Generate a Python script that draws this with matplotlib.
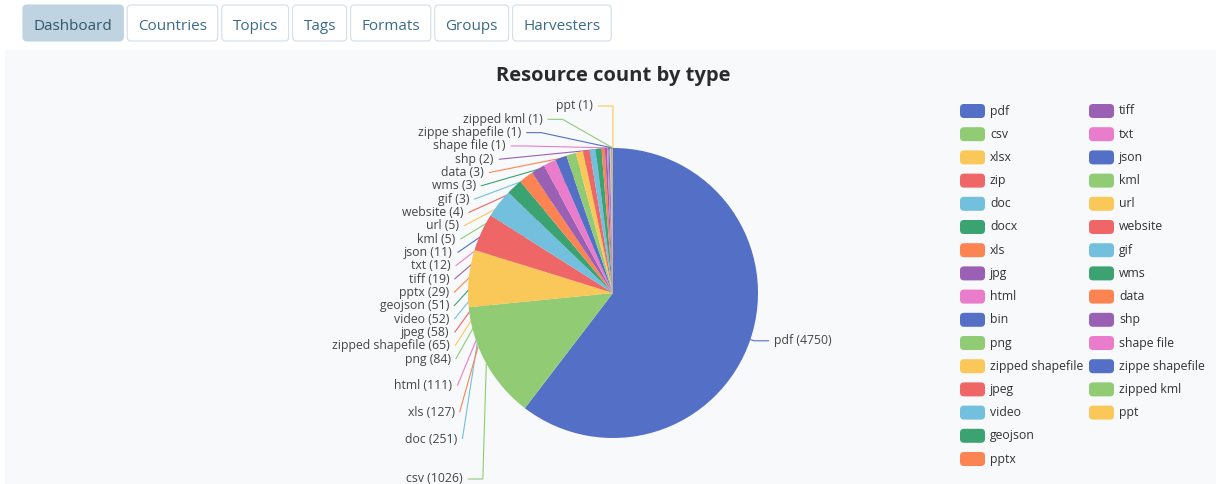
import numpy as np
import matplotlib.pyplot as plt
from matplotlib.patches import FancyBboxPatch, Rectangle

# resource formats, in the order the dashboard lists them
types = ['pdf', 'csv', 'xlsx', 'zip', 'doc', 'docx', 'xls', 'jpg', 'html', 'bin',
         'png', 'zipped shapefile', 'jpeg', 'video', 'geojson', 'pptx', 'tiff', 'txt',
         'json', 'kml', 'url', 'website', 'gif', 'wms', 'data', 'shp', 'shape file',
         'zippe shapefile', 'zipped kml', 'ppt']
counts = [4750, 1026, 500, 330, 251, 140, 127, 120, 111, 100,
          84, 65, 58, 52, 51, 29, 19, 12,
          11, 5, 5, 4, 3, 3, 3, 2, 1,
          1, 1, 1]
# labels the chart hides because they collide
unlabeled = ['xlsx', 'zip', 'docx', 'jpg', 'bin']
tabs = ['Dashboard', 'Countries', 'Topics', 'Tags', 'Formats', 'Groups', 'Harvesters']
palette = ['#5470c6', '#91cc75', '#fac858', '#ee6666', '#73c0de',
           '#3ba272', '#fc8452', '#9a60b4', '#ea7ccc']

W, H = 1216, 484
cx, cy, r = 613, 293, 145
len1, len2, gap = 4, 15, 5
label_top, label_bottom, label_h = 99, 486, 14

plt.rcParams['font.family'] = ['Open Sans', 'DejaVu Sans']

fig = plt.figure(figsize=(W / 100, H / 100), dpi=100)
ax = fig.add_axes([0, 0, 1, 1])

colors = [palette[i % len(palette)] for i in range(len(types))]
ax.pie(counts, colors=colors, center=(cx, cy), radius=r, startangle=270,
       counterclock=True, wedgeprops=dict(linewidth=0, zorder=3))
ax.set_xlim(0, W)
ax.set_ylim(H, 0)
ax.set_aspect('auto')
ax.axis('off')

# panel behind the chart
ax.add_patch(Rectangle((5, 50), W - 5, H - 50, color='#f8f9fb', zorder=0))


# ---- echarts-like outside label layout (pixel space, y down) ----
def project(p1, p2, p0):
    d = (p2 - p1) / np.linalg.norm(p2 - p1)
    proj = p1 + d * np.dot(p0 - p1, d)
    return proj, np.linalg.norm(p0 - proj)


def clamp_to_segment(tang, p1, p2):
    if p2[0] != p1[0]:
        t = (tang[0] - p1[0]) / (p2[0] - p1[0])
    else:
        t = (tang[1] - p1[1]) / (p2[1] - p1[1])
    if t < 0:
        return p1.copy()
    if t > 1:
        return p2.copy()
    return tang


def limit_turn_angle(pts, min_turn=90):
    p0, p1, p2 = pts
    d1, d2 = p0 - p1, p2 - p1
    if np.linalg.norm(d1) < 1e-3 or np.linalg.norm(d2) < 1e-3:
        return
    d1 = d1 / np.linalg.norm(d1)
    d2 = d2 / np.linalg.norm(d2)
    a = np.radians(min_turn)
    if np.cos(a) < np.dot(d1, d2):
        proj, dist = project(p1, p2, p0)
        tang = proj + d2 * dist / np.tan(np.pi - a)
        pts[1] = clamp_to_segment(tang, p1, p2)


def limit_surface_angle(pts, normal, max_angle=90):
    p0, p1, p2 = pts
    d1, d2 = p1 - p0, p2 - p1
    if np.linalg.norm(d1) < 1e-3 or np.linalg.norm(d2) < 1e-3:
        return
    d1 = d1 / np.linalg.norm(d1)
    d2 = d2 / np.linalg.norm(d2)
    a = np.radians(max_angle)
    if np.dot(d1, normal) < np.cos(a):
        proj, dist = project(p1, p2, p0)
        angle2 = np.arccos(np.clip(np.dot(d2, normal), -1, 1))
        new = np.pi / 2 + angle2 - a
        if new >= np.pi / 2:
            tang = p2.copy()
        else:
            tang = clamp_to_segment(proj + d2 * dist / np.tan(np.pi / 2 - new), p1, p2)
        pts[1] = tang


total = sum(counts)
ends = np.cumsum(counts) / total * 360
mids = ends - np.array(counts) / total * 180

items = []
for name, mid in zip(types, mids):
    a = np.radians(mid)
    n = np.array([np.sin(a), -np.cos(a)])
    side = -1 if n[0] < 0 else 1
    x2, y2 = cx + (r + len1) * n[0], cy + (r + len1) * n[1]
    items.append(dict(name=name, normal=n, side=side,
                      p0=np.array([cx + r * n[0], cy + r * n[1]]),
                      x=x2 + side * (len2 + gap), y=y2))

for side in (-1, 1):
    group = sorted([it for it in items if it['side'] == side], key=lambda it: it['y'])
    if len(group) < 2:
        continue
    ys = [it['y'] for it in group]
    for k in range(1, len(ys)):
        ys[k] = max(ys[k], ys[k - 1] + label_h)
    if ys[-1] + label_h / 2 > label_bottom:
        ys[-1] = label_bottom - label_h / 2
        for k in range(len(ys) - 2, -1, -1):
            ys[k] = min(ys[k], ys[k + 1] - label_h)
    if ys[0] - label_h / 2 < label_top:
        step = (label_bottom - label_top - label_h) / (len(ys) - 1)
        ys = [label_top + label_h / 2 + k * step for k in range(len(ys))]
    for it, y in zip(group, ys):
        it['y'] = y
    # align the shifted labels on an ellipse, top and bottom halves apart
    rA = r + len1
    for semi in ([it for it in group if it['y'] <= cy], [it for it in group if it['y'] > cy]):
        if not semi:
            continue
        far = max(semi, key=lambda it: abs(it['y'] - cy))
        dy = abs(far['y'] - cy)
        dx = far['x'] - cx - len2 * side
        rB = np.sqrt(dy ** 2 / (1 - dx ** 2 / rA ** 2)) if abs(dx) < rA else rA
        for it in semi:
            dy = abs(it['y'] - cy)
            ddx = np.sqrt(max(0.0, 1 - dy ** 2 / rB ** 2)) * rA
            it['x'] = cx + side * (ddx + len2)

for it, v in zip(items, counts):
    if it['name'] in unlabeled:
        continue
    side = it['side']
    p2 = np.array([it['x'] - side * gap, it['y']])
    p1 = np.array([p2[0] - side * len2, it['y']])
    pts = [it['p0'], p1, p2]
    limit_turn_angle(pts)
    limit_surface_angle(pts, it['normal'])
    xs, ys = zip(*pts)
    col = colors[types.index(it['name'])]
    ax.plot(xs, ys, color=col, lw=0.8, zorder=2, solid_capstyle='butt')
    ax.text(it['x'], it['y'], f"{it['name']} ({v})", fontsize=8.8, color='#464646',
            ha='right' if side < 0 else 'left', va='center', zorder=4)

# title
ax.text(613, 76, 'Resource count by type', fontsize=14.5, fontweight='bold',
        color='#2b2b2b', ha='center', va='center')

# legend: vertical, wraps into a second column
per_col = 16
for k, name in enumerate(types):
    lx = 960 + (k // per_col) * 129
    ly = 111 + (k % per_col) * 23.2
    ax.add_patch(FancyBboxPatch((lx, ly - 7), 25, 14, boxstyle='round,pad=0,rounding_size=4',
                                fc=colors[k], ec='none', zorder=3))
    ax.text(lx + 30, ly, name, fontsize=8.8, color='#333333', ha='left', va='center')

# nav tabs
renderer = fig.canvas.get_renderer()
tx = 23
for k, name in enumerate(tabs):
    t = ax.text(0, 24, name, fontsize=11, color='#34566b' if k == 0 else '#3a6b8a',
                ha='center', va='center_baseline', zorder=4)
    w = t.get_window_extent(renderer).width + 21.5
    t.set_x(tx + w / 2)
    ax.add_patch(FancyBboxPatch((tx, 5), w, 36, boxstyle='round,pad=0,rounding_size=4',
                                fc='#bfd4e0' if k == 0 else 'white',
                                ec='#bfd4e0' if k == 0 else '#d3dee6', lw=0.8, zorder=3))
    tx += w + 4

fig.savefig('out.png', dpi=100)
